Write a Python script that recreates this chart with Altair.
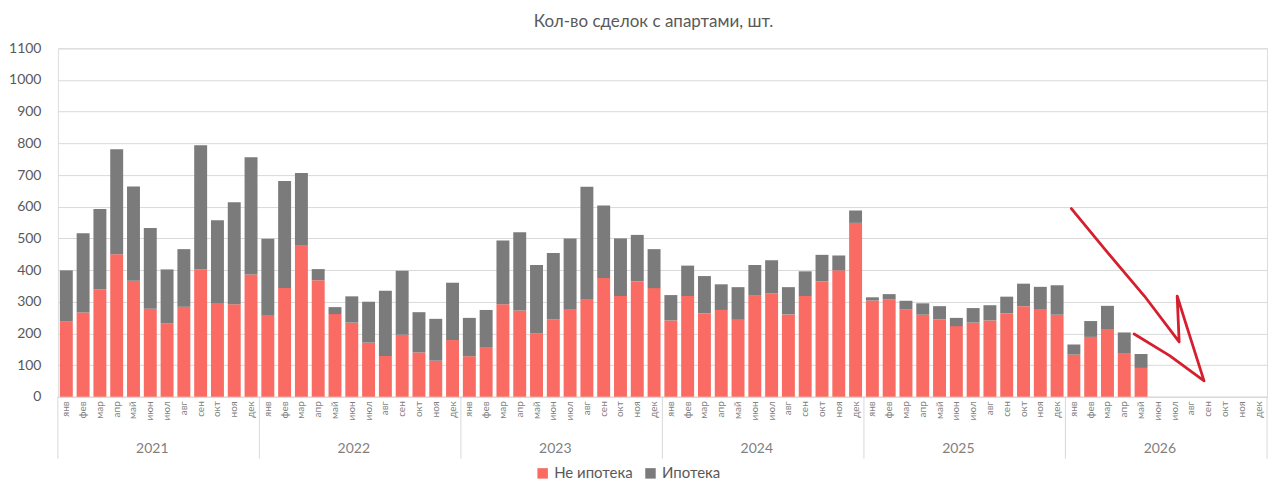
import altair as alt
import pandas as pd

years = [2021, 2022, 2023, 2024, 2025, 2026]
months = ["янв", "фев", "мар", "апр", "май", "июн", "июл", "авг", "сен", "окт", "ноя", "дек"]

# Не ипотека (non-mortgage) deals, Jan 2021 .. May 2026
non_mortgage = [
    238, 266, 339, 450, 366, 278, 232, 284, 402, 296, 292, 386,
    258, 343, 477, 368, 261, 234, 171, 129, 196, 140, 114, 179,
    128, 157, 292, 272, 201, 245, 275, 306, 375, 318, 365, 343,
    241, 318, 264, 274, 243, 319, 326, 260, 318, 365, 399, 549,
    304, 307, 275, 259, 245, 223, 234, 241, 264, 286, 277, 259,
    133, 189, 214, 138, 91,
]
# Ипотека (mortgage) deals, Jan 2021 .. May 2026
mortgage = [
    161, 250, 254, 331, 298, 255, 170, 182, 392, 261, 322, 370,
    241, 338, 229, 35, 22, 83, 129, 206, 202, 127, 132, 181,
    121, 117, 201, 247, 215, 209, 225, 357, 229, 182, 146, 123,
    80, 96, 117, 81, 103, 97, 105, 86, 78, 83, 47, 39,
    10, 17, 28, 36, 41, 26, 46, 48, 52, 71, 70, 93,
    32, 50, 73, 65, 44,
]

# hand-drawn arrow annotation (x in month index units, y in deals)
arrow_x = [60.35, 62.4, 64.7, 66.77, 66.65, 67.3, 68.25, 66.2, 64.09]
arrow_y = [594, 462, 318, 173, 318, 209, 50, 130, 198]

RED = "#F96B63"
GRAY = "#7B7B7B"
TXT = "#595959"
LINE = "#D9D9D9"
W, H = 1211, 349

keys = [f"{y}|{m}" for y in years for m in months]

rows = []
for i, (a, b) in enumerate(zip(non_mortgage, mortgage)):
    rows.append({"key": keys[i], "series": "Не ипотека", "value": a, "ord": 0})
    rows.append({"key": keys[i], "series": "Ипотека", "value": b, "ord": 1})
df = pd.DataFrame(rows)

xscale = alt.Scale(domain=keys, paddingInner=0.23, paddingOuter=0.115)
yscale = alt.Scale(domain=[0, 1100], nice=False)
yaxis = alt.Axis(values=list(range(0, 1101, 100)), format="d", domain=False,
                 ticks=False, gridColor=LINE, labelFontSize=14, labelColor=TXT,
                 labelPadding=17, labelFont="Lato", labelOverlap=False, title=None)

bars = alt.Chart(df).mark_bar().encode(
    x=alt.X("key:N", scale=xscale, sort=keys, title=None,
            axis=alt.Axis(labelExpr="split(datum.label, '|')[1]", labelAngle=-90,
                          labelFontSize=10, labelColor="#7F7F7F", ticks=False,
                          domainColor=LINE, labelPadding=4, labelFont="Lato",
                          labelOverlap=False)),
    y=alt.Y("value:Q", stack="zero", title=None, scale=yscale, axis=yaxis),
    color=alt.Color("series:N",
                    scale=alt.Scale(domain=["Не ипотека", "Ипотека"], range=[RED, GRAY]),
                    legend=alt.Legend(title=None, orient="none", legendX=478, legendY=418,
                                      direction="horizontal", symbolType="square",
                                      symbolSize=110, symbolStrokeWidth=0,
                                      labelFontSize=15, labelColor=TXT, labelFont="Lato",
                                      columnPadding=10)),
    order=alt.Order("ord:Q"),
)

sep_df = pd.DataFrame({"key": [f"{y}|янв" for y in years]})
seps = alt.Chart(sep_df).mark_rule(color=LINE, xOffset=-2).encode(
    x=alt.X("key:N", scale=xscale, sort=keys, axis=None, bandPosition=0),
    y=alt.value(H), y2=alt.value(H + 62),
)
end_df = pd.DataFrame({"key": ["2026|дек"]})
sep_end = alt.Chart(end_df).mark_rule(color=LINE, xOffset=2).encode(
    x=alt.X("key:N", scale=xscale, sort=keys, axis=None, bandPosition=1),
    y=alt.value(H), y2=alt.value(H + 62),
)

yr_df = pd.DataFrame({"key": [f"{y}|июн" for y in years], "year": [str(y) for y in years]})
yr_text = alt.Chart(yr_df).mark_text(fontSize=14, color="#7F7F7F", font="Lato",
                                     baseline="middle", xOffset=2).encode(
    x=alt.X("key:N", scale=xscale, sort=keys, axis=None, bandPosition=1),
    y=alt.value(H + 52),
    text="year:N",
)

arrow_df = pd.DataFrame({"ax": arrow_x, "ay": arrow_y, "i": list(range(len(arrow_x)))})
arrow = alt.Chart(arrow_df).mark_line(color="#D61F2E", strokeWidth=2.8, strokeJoin="round",
                                      strokeCap="round").encode(
    x=alt.X("ax:Q", scale=alt.Scale(domain=[0, 72], nice=False, zero=False), axis=None),
    y=alt.Y("ay:Q", scale=yscale, axis=yaxis, title=None),
    order="i:Q",
)

chart = alt.layer(bars, seps, sep_end, yr_text, arrow).resolve_scale(
    x="independent"
).properties(
    width=W, height=H,
    title=alt.TitleParams("Кол-во сделок с апартами, шт.", fontSize=17, color=TXT,
                          fontWeight="normal", font="Lato", anchor="middle", offset=10, dx=-9),
    padding={"left": 0, "top": 5, "right": 4, "bottom": 5},
).configure_view(strokeWidth=0).configure(background="white")

chart.save("out.html", embed_options={"renderer": "svg", "actions": False})
